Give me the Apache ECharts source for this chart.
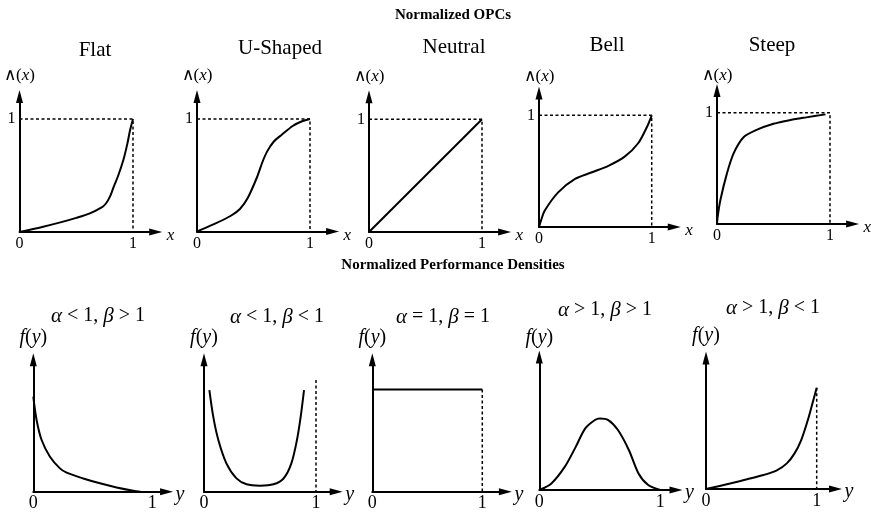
<!DOCTYPE html>
<html><head><meta charset="utf-8">
<script src="https://cdn.jsdelivr.net/npm/echarts@6/dist/echarts.min.js"></script>
<style>html,body{margin:0;padding:0;background:#fff}#c{width:871px;height:518px}</style>
</head><body><div id="c"></div>
<script>
// ---------------- data ----------------
const headings = ['Normalized OPCs', 'Normalized Performance Densities'];
const opcTitles = ['Flat', 'U-Shaped', 'Neutral', 'Bell', 'Steep'];
const densTitles = [
  '{g|α} < 1, {g|β} > 1',
  '{g|α} < 1, {g|β} < 1',
  '{g|α} = 1, {g|β} = 1',
  '{g|α} > 1, {g|β} > 1',
  '{g|α} > 1, {g|β} < 1'
];
const opcXTicks = [0, 1];
const opcYTicks = [1];
const densXTicks = [0, 1];

const opcFlat = [[0,0],[0.2,0.045],[0.36,0.085],[0.5,0.125],[0.62,0.165],[0.72,0.215],[0.76,0.25],[0.8,0.32],[0.83,0.4],[0.87,0.5],[0.915,0.637],[0.95,0.78],[0.974,0.9],[1,1]];
const opcUShaped = [[0,0],[0.15,0.065],[0.3,0.14],[0.38,0.2],[0.45,0.3],[0.53,0.48],[0.58,0.62],[0.62,0.71],[0.68,0.8],[0.75,0.86],[0.85,0.94],[0.93,0.98],[1,1]];
const opcNeutral = [[0,0],[1,1]];
const opcBell = [[0,0],[0.018,0.06],[0.053,0.15],[0.17,0.31],[0.32,0.43],[0.47,0.49],[0.62,0.55],[0.76,0.63],[0.88,0.75],[0.96,0.9],[1,1]];
const opcSteep = [[0,0],[0.006,0.066],[0.03,0.215],[0.088,0.455],[0.147,0.635],[0.235,0.78],[0.35,0.845],[0.5,0.9],[0.65,0.934],[0.79,0.958],[0.96,0.985]];
const opcBound = [[0,1],[1,1],[1,0]];

const densA = [[0,0.864],[0.028,0.65],[0.07,0.47],[0.14,0.318],[0.224,0.212],[0.28,0.173],[0.42,0.12],[0.56,0.076],[0.7,0.039],[0.84,0.009],[0.9,0]];
const densB = [[0.048,0.924],[0.083,0.68],[0.128,0.47],[0.2,0.258],[0.29,0.121],[0.38,0.067],[0.5,0.055],[0.62,0.067],[0.71,0.12],[0.78,0.258],[0.83,0.47],[0.863,0.68],[0.893,0.924]];
const densBBound = [[1,1.015],[1,0]];
const densC = [[0,0.93],[1,0.93]];
const densCBound = [[1,0.93],[1,0]];
const densD = [[0,0],[0.1,0.06],[0.21,0.21],[0.3,0.39],[0.38,0.56],[0.46,0.636],[0.5,0.65],[0.57,0.636],[0.65,0.545],[0.74,0.364],[0.82,0.15],[0.9,0.045],[1,0]];
const densE = [[0,0],[0.217,0.05],[0.37,0.088],[0.52,0.127],[0.64,0.17],[0.73,0.233],[0.8,0.324],[0.86,0.445],[0.92,0.627],[0.97,0.81],[1,0.92]];
const densEBound = [[1,0.92],[1,0]];

const opcCurves = [opcFlat, opcUShaped, opcNeutral, opcBell, opcSteep];
const densCurves = [densA, densB, densC, densD, densE];
const densBounds = [null, densBBound, densCBound, null, densEBound];

// ---------------- layout ----------------
const FONT = '"Liberation Serif", "Times New Roman", serif';
const topLayout = [
  {ox:19.5, oy:232,   ux:113.5, uy:113,   xMax:1.2, yMax:1.2, yGap:12},
  {ox:197,  oy:231.5, ux:113,   uy:112.5, xMax:1.2, yMax:1.2, yGap:12},
  {ox:369,  oy:232,   ux:113,   uy:112.7, xMax:1.2, yMax:1.2, yGap:12},
  {ox:539,  oy:227,   ux:112.7, uy:111.7, xMax:1.2, yMax:1.2, yGap:8},
  {ox:717,  oy:224,   ux:113,   uy:111.3, xMax:1.2, yMax:1.2, yGap:6}
];
const botLayout = [
  {ox:33.3,  oy:491.7, ux:119,   uy:110, xMax:1.12, yMax:1.2,  yGap:12},
  {ox:204,   oy:491.7, ux:112,   uy:110, xMax:1.18, yMax:1.2,  yGap:12},
  {ox:372.3, oy:491.7, ux:110,   uy:110, xMax:1.21, yMax:1.2,  yGap:12},
  {ox:539.3, oy:490,   ux:121,   uy:110, xMax:1.13, yMax:1.21, yGap:9},
  {ox:706,   oy:489,   ux:110.7, uy:110, xMax:1.17, yMax:1.19, yGap:12}
];
const topTitlePos = [[95,50],[280,48],[454,47],[607,45],[772,45]];
const botTitlePos = [[98,316],[277,317],[443,317],[605,310],[773,308]];

const grids = [], xAxes = [], yAxes = [], series = [];
const axisLine = {show:true, onZero:false, symbol:['none','triangle'], symbolSize:[7,13], lineStyle:{color:'#000', width:2}};

function addPanel(L, opts) {
  const i = grids.length;
  grids.push({left:L.ox, top:L.oy - L.uy*L.yMax, width:L.ux*L.xMax, height:L.uy*L.yMax, outerBoundsMode:'none', containLabel:false});
  xAxes.push({
    type:'value', gridIndex:i, min:0, max:L.xMax,
    axisLine, axisTick:{show:false}, splitLine:{show:false},
    axisLabel:{customValues:opts.xTicks, color:'#000', fontFamily:FONT, fontSize:opts.tickSize, margin:opts.tickMargin},
    name:'{n|' + opts.xName + '}', nameLocation:'end', nameGap:opts.xNameGap, nameMoveOverlap:false,
    nameTextStyle:{color:'#000', fontFamily:FONT, fontSize:opts.xNameSize,
      rich:{n:{fontFamily:FONT, fontStyle:'italic', fontSize:opts.xNameSize, color:'#000', padding:[opts.xNameDrop,0,0,0]}}}
  });
  yAxes.push({
    type:'value', gridIndex:i, min:0, max:L.yMax,
    axisLine, axisTick:{show:false}, splitLine:{show:false},
    axisLabel: opts.yTicks ? {customValues:opts.yTicks, color:'#000', fontFamily:FONT, fontSize:opts.tickSize, margin:4} : {show:false},
    name:opts.yName, nameLocation:'end', nameGap:L.yGap, nameMoveOverlap:false,
    nameTextStyle:{color:'#000', fontFamily:FONT, fontSize:opts.yNameSize, align:'center',
      rich:{i:{fontStyle:'italic', fontFamily:FONT, fontSize:opts.yNameSize, color:'#000'}}}
  });
  series.push({type:'line', xAxisIndex:i, yAxisIndex:i, data:opts.curve, showSymbol:false, smooth:0.3,
    lineStyle:{color:'#000', width:2}, silent:true, z:3});
  if (opts.bound) {
    series.push({type:'line', xAxisIndex:i, yAxisIndex:i, data:opts.bound, showSymbol:false,
      lineStyle:{color:'#000', width:1.5, type:[3,2.5]}, silent:true, z:2});
  }
}

topLayout.forEach((L, k) => addPanel(L, {
  xTicks:opcXTicks, yTicks:opcYTicks, tickSize:16, tickMargin:4,
  xName:'x', xNameGap:11, xNameSize:17, xNameDrop:8,
  yName:'∧({i|x})', yNameSize:17,
  curve:opcCurves[k], bound:opcBound
}));
botLayout.forEach((L, k) => addPanel(L, {
  xTicks:densXTicks, yTicks:null, tickSize:18, tickMargin:3,
  xName:'y', xNameGap:9, xNameSize:20, xNameDrop:6,
  yName:'{i|f}({i|y})', yNameSize:20,
  curve:densCurves[k], bound:densBounds[k]
}));

const graphic = [];
graphic.push({type:'text', x:453, y:15, style:{text:headings[0], font:'bold 15px ' + FONT, fill:'#000', align:'center', verticalAlign:'middle'}});
graphic.push({type:'text', x:453, y:265, style:{text:headings[1], font:'bold 15px ' + FONT, fill:'#000', align:'center', verticalAlign:'middle'}});
opcTitles.forEach((t, k) => graphic.push({type:'text', x:topTitlePos[k][0], y:topTitlePos[k][1],
  style:{text:t, font:'21px ' + FONT, fill:'#000', align:'center', verticalAlign:'middle'}}));
densTitles.forEach((t, k) => graphic.push({type:'text', x:botTitlePos[k][0], y:botTitlePos[k][1],
  style:{text:t, fontFamily:FONT, fontSize:20, fill:'#000', align:'center', verticalAlign:'middle',
    rich:{g:{fontFamily:FONT, fontSize:21, fontStyle:'italic', fill:'#000'}}}}));

const chart = echarts.init(document.getElementById('c'), null, {renderer:'canvas'});
chart.setOption({
  backgroundColor:'#fff', animation:false,
  grid:grids, xAxis:xAxes, yAxis:yAxes, series, graphic
});
</script></body></html>
